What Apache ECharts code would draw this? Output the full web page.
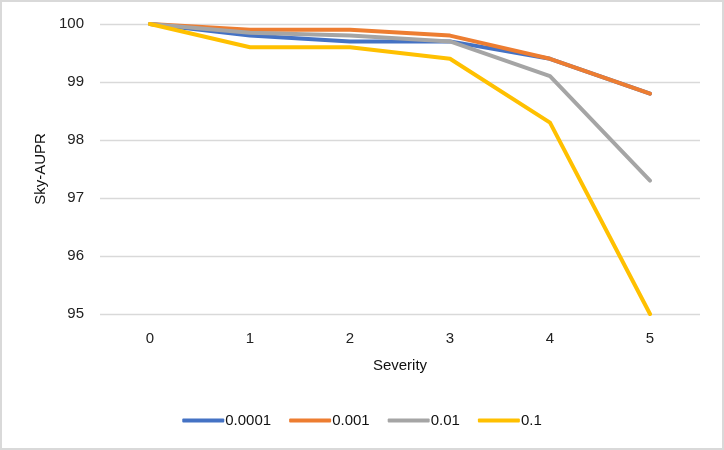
<!DOCTYPE html>
<html><head><meta charset="utf-8">
<script src="https://cdn.jsdelivr.net/npm/echarts@6/dist/echarts.min.js"></script>
<style>html,body{margin:0;padding:0;background:#fff}#c{width:720px;height:446px;border:2px solid #d9d9d9}</style>
</head><body><div id="c"></div>
<script>
const categories = ['0','1','2','3','4','5'];
const s0001 = [100, 99.8, 99.7, 99.7, 99.4, 98.8];
const s001 = [100, 99.9, 99.9, 99.8, 99.4, 98.8];
const s01 = [100, 99.85, 99.8, 99.7, 99.1, 97.3];
const s1 = [100, 99.6, 99.6, 99.4, 98.3, 95.0];
const names = ['0.0001','0.001','0.01','0.1'];
const colors = ['#4472c4','#ed7d31','#a5a5a5','#ffc000'];
const font = 'Liberation Sans, Arial, sans-serif';
const chart = echarts.init(document.getElementById('c'));
const mk = (n, d, c) => ({name:n, type:'line', data:d, showSymbol:false, symbol:'none', lineStyle:{width:4, color:c, cap:'round', join:'round'}, itemStyle:{color:c}});
chart.setOption({
  animation:false,
  textStyle:{fontFamily:font},
  grid:{left:98, right:22, top:22, bottom:134},
  legend:{bottom:15, left:'center', itemWidth:42, itemHeight:4, itemGap:18, icon:'roundRect',
    textStyle:{fontFamily:font, fontSize:15, color:'#111', padding:[0,0,0,-4]}, data:names},
  xAxis:{type:'category', data:categories, boundaryGap:true,
    name:'Severity', nameLocation:'middle', nameGap:44, nameTextStyle:{fontSize:15, color:'#111', fontFamily:font},
    axisLine:{show:false}, axisTick:{show:false}, axisLabel:{fontSize:15, color:'#222', margin:17}},
  yAxis:{type:'value', min:95, max:100, interval:1,
    name:'Sky-AUPR', nameLocation:'middle', nameGap:51, nameTextStyle:{fontSize:15, color:'#111', fontFamily:font},
    axisLine:{show:false}, axisTick:{show:false}, axisLabel:{fontSize:15, color:'#222', margin:16},
    splitLine:{lineStyle:{color:'#d9d9d9', width:1.3}}},
  series:[mk(names[0], s0001, colors[0]), mk(names[1], s001, colors[1]), mk(names[2], s01, colors[2]), mk(names[3], s1, colors[3])]
});
</script></body></html>
